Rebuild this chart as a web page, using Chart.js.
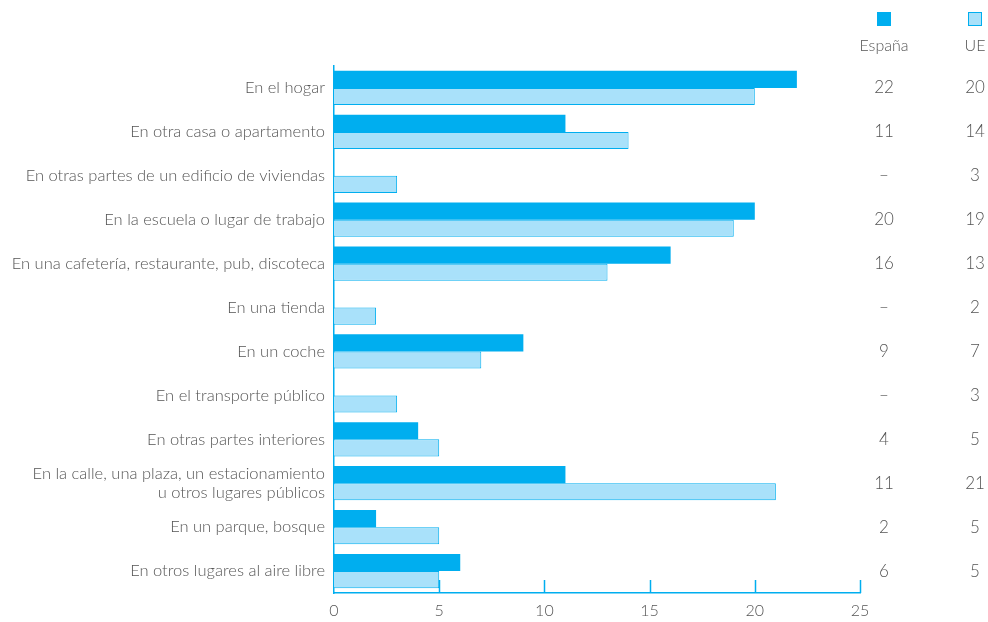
<!DOCTYPE html>
<html>
<head>
<meta charset="utf-8">
<script src="https://cdn.jsdelivr.net/npm/chart.js@4/dist/chart.umd.min.js"></script>
<style>
  html, body { margin: 0; padding: 0; background: #ffffff; }
  #wrap { width: 988px; height: 622px; position: relative; }
</style>
</head>
<body>
<div id="wrap"><canvas id="chart"></canvas></div>
<script>
const categories = [
  'En el hogar',
  'En otra casa o apartamento',
  'En otras partes de un edificio de viviendas',
  'En la escuela o lugar de trabajo',
  'En una cafetería, restaurante, pub, discoteca',
  'En una tienda',
  'En un coche',
  'En el transporte público',
  'En otras partes interiores',
  ['En la calle, una plaza, un estacionamiento', 'u otros lugares públicos'],
  'En un parque, bosque',
  'En otros lugares al aire libre'
];
const espana = [22, 11, null, 20, 16, null, 9, null, 4, 11, 2, 6];
const ue = [20, 14, 3, 19, 13, 2, 7, 3, 5, 21, 5, 5];
const seriesNames = ['España', 'UE'];
const xTicks = [0, 5, 10, 15, 20, 25];

const FONT = "'Lato', 'Open Sans', sans-serif";
const TEXT = '#555555';
const BLUE = '#00aeef';
const LIGHT = '#a9e1fa';
const colX = [884, 975];

const sidePlugin = {
  id: 'side',
  afterDraw(chart) {
    const ctx = chart.ctx;
    const x = chart.scales.x;
    const y = chart.scales.y;
    ctx.save();
    // inner tick marks on the x axis
    ctx.strokeStyle = BLUE;
    ctx.lineWidth = 1.5;
    xTicks.slice(1).forEach(v => {
      const px = Math.round(x.getPixelForValue(v)) + 0.5;
      ctx.beginPath();
      ctx.moveTo(px, y.bottom - 13);
      ctx.lineTo(px, y.bottom);
      ctx.stroke();
    });
    // legend
    ctx.fillStyle = BLUE;
    ctx.fillRect(colX[0] - 7, 12, 14, 14);
    ctx.fillStyle = LIGHT;
    ctx.fillRect(colX[1] - 7, 12, 14, 14);
    ctx.strokeStyle = BLUE;
    ctx.lineWidth = 1;
    ctx.strokeRect(colX[1] - 6.5, 12.5, 13, 13);
    ctx.fillStyle = TEXT;
    ctx.font = '300 16px ' + FONT;
    ctx.textAlign = 'center';
    ctx.textBaseline = 'middle';
    ctx.fillText(seriesNames[0], colX[0], 46);
    ctx.fillText(seriesNames[1], colX[1], 46);
    // value columns
    ctx.font = '300 17px ' + FONT;
    categories.forEach((c, i) => {
      const py = y.getPixelForValue(i);
      ctx.fillText(espana[i] == null ? '–' : String(espana[i]), colX[0], py);
      ctx.fillText(ue[i] == null ? '–' : String(ue[i]), colX[1], py);
    });
    ctx.restore();
  }
};

new Chart(document.getElementById('chart'), {
  type: 'bar',
  data: {
    labels: categories,
    datasets: [
      {
        label: seriesNames[0],
        data: espana,
        backgroundColor: BLUE,
        borderWidth: 0,
        categoryPercentage: 0.78,
        barPercentage: 1
      },
      {
        label: seriesNames[1],
        data: ue,
        backgroundColor: LIGHT,
        borderColor: BLUE,
        borderWidth: 1,
        categoryPercentage: 0.78,
        barPercentage: 1
      }
    ]
  },
  options: {
    indexAxis: 'y',
    responsive: true,
    maintainAspectRatio: false,
    animation: false,
    layout: { padding: { left: 0, right: 128, top: 66, bottom: 0 } },
    plugins: {
      legend: { display: false },
      tooltip: { enabled: false }
    },
    scales: {
      x: {
        min: 0,
        max: 25,
        afterBuildTicks(scale) { scale.ticks = xTicks.map(v => ({ value: v })); },
        afterFit(scale) { scale.height = 29; },
        grid: { display: false },
        border: { display: true, color: BLUE, width: 1.5 },
        ticks: {
          color: TEXT,
          padding: 0,
          font: { family: FONT, size: 16, weight: '300' }
        }
      },
      y: {
        afterFit(scale) { scale.width = 334; },
        grid: { display: false },
        border: { display: true, color: BLUE, width: 1.5 },
        ticks: {
          color: TEXT,
          padding: 1,
          font: { family: FONT, size: 16.5, weight: '300' }
        }
      }
    }
  },
  plugins: [sidePlugin]
});
</script>
</body>
</html>
